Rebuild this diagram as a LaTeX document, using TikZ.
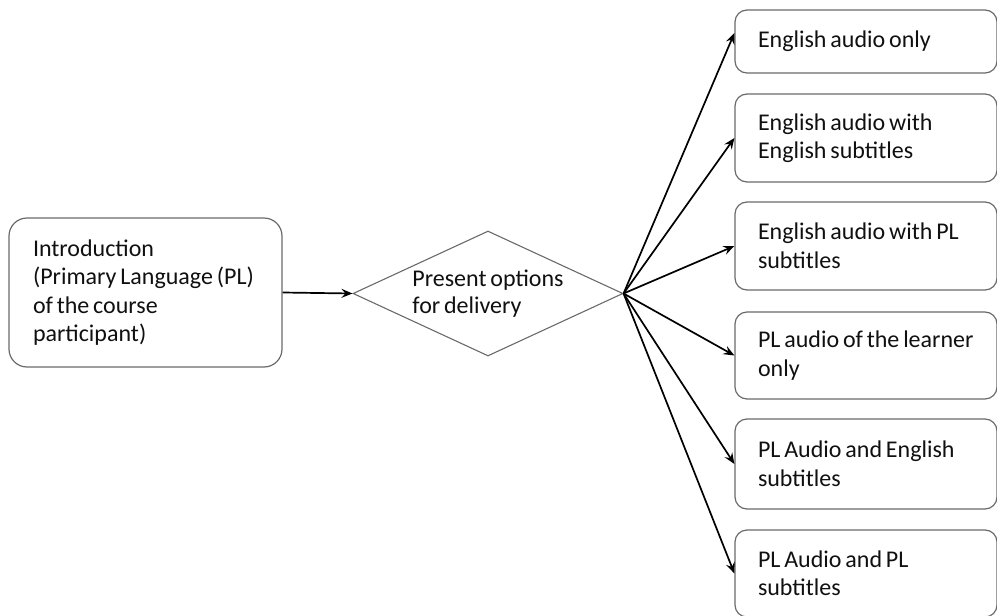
\documentclass[tikz,border=0pt]{standalone}
\usepackage{fontspec}
\setmainfont{Carlito}[WordSpace=0.7]
\usetikzlibrary{shapes.geometric,arrows.meta}
\definecolor{boxgray}{HTML}{6A6A6A}
\definecolor{txt}{HTML}{101010}
\begin{document}
\begin{tikzpicture}[x=1pt,y=-1pt,
  box/.style={draw=boxgray, line width=1.2pt, align=left, text=txt,
    font=\fontsize{24}{28.5}\selectfont,
    execute at begin node={\spaceskip=0.16em plus 0.02em\relax\rightskip=-30pt plus 1fil\relax}},
  lbox/.style={box, rounded corners=18pt, minimum width=273pt, text width=225pt, inner xsep=24pt},
  rbox/.style={box, rounded corners=12pt, minimum width=262pt, text width=216pt, inner xsep=23pt},
  decision/.style={diamond, draw=boxgray, line width=1.1pt, aspect=2.16,
    minimum width=270pt, minimum height=125pt, inner sep=1pt, align=left, text=txt,
    font=\fontsize{24}{27}\selectfont},
  arr/.style={draw=black, line width=1.7pt, -{Stealth[length=11pt,width=9pt,inset=4pt]}}]
\useasboundingbox (0,0) rectangle (997,616);
\node[lbox, minimum height=149pt] (intro) at (145.5,292.5)
  {Introduction\\(Primary Language (PL)\\of the course\\participant)};
\node[decision] (dec) at (488,293.5) {Present options\\for delivery};
\node[rbox, minimum height=63pt] (b1) at (866,41.5) {English audio only};
\node[rbox, minimum height=88pt] (b2) at (866,138) {English audio with\\English subtitles};
\node[rbox, minimum height=88pt] (b3) at (866,246) {English audio with PL\\subtitles};
\node[rbox, minimum height=87pt] (b4) at (866,355.5) {PL audio of the learner\\only};
\node[rbox, minimum height=90pt] (b5) at (866,464) {PL Audio and English\\subtitles};
\node[rbox, minimum height=87pt] (b6) at (866,573.5) {PL Audio and PL\\subtitles};
\draw[arr] (intro.east) -- (dec.west);
\draw[arr] (dec.east) -- ([yshift=8.5pt]b1.west);
\draw[arr] (dec.east) -- (b2.west);
\draw[arr] (dec.east) -- (b3.west);
\draw[arr] (dec.east) -- (b4.west);
\draw[arr] (dec.east) -- (b5.west);
\draw[arr] (dec.east) -- (b6.west);
\end{tikzpicture}
\end{document}
